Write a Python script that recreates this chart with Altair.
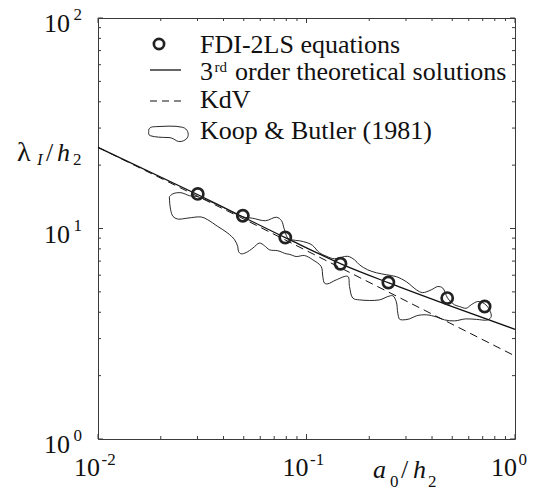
import altair as alt
import pandas as pd

# ---------------- data ----------------
fdi_a = [0.0301, 0.0495, 0.0791, 0.1455, 0.247, 0.473, 0.715]
fdi_lam = [14.6, 11.5, 9.06, 6.80, 5.54, 4.67, 4.26]

third_a = [0.01, 0.03, 0.08, 0.15, 0.25, 0.474, 1.0]
third_lam = [24.3, 14.5, 9.0, 6.72, 5.5, 4.34, 3.32]

kdv_a = [0.01, 0.05, 1.0]
kdv_lam = [24.3, 11.1, 2.48]

koop_a = [0.0220, 0.0229, 0.0250, 0.0275, 0.0300, 0.0383, 0.0493, 0.0551, 0.0636, 0.0718,
          0.0759, 0.0780, 0.0811, 0.0848, 0.0926, 0.1011, 0.1068, 0.1154, 0.1247, 0.1362,
          0.1573, 0.1699, 0.1796, 0.1962, 0.2166, 0.2419, 0.2702, 0.3017, 0.337, 0.360,
          0.3963, 0.4263, 0.4505, 0.4746, 0.5127, 0.5418, 0.5834, 0.6165, 0.6631, 0.714,
          0.7546, 0.769, 0.7405,
          0.6536, 0.5789, 0.5127, 0.4591, 0.4202, 0.3763, 0.337, 0.3119, 0.2887, 0.2793,
          0.2741, 0.2693, 0.2594, 0.2455, 0.2239, 0.1796, 0.1668, 0.1608, 0.1578, 0.1388,
          0.1265, 0.122, 0.1197, 0.1176, 0.1072, 0.0978, 0.0893, 0.0829, 0.0799, 0.0729,
          0.0665, 0.0629, 0.0595, 0.0553, 0.0514, 0.0486, 0.0472, 0.0468, 0.0452, 0.0419,
          0.0375, 0.0336, 0.0313, 0.0270, 0.0241, 0.0229, 0.0223, 0.0220]
koop_lam = [14.16, 14.63, 14.79, 14.31, 14.16, 12.83, 11.37, 11.19, 10.89, 11.31,
            10.89, 10.03, 9.04, 8.84, 8.74, 8.55, 8.32, 7.67, 7.38, 7.18,
            7.38, 7.10, 6.72, 6.37, 6.16, 6.03, 5.90, 5.58, 5.11, 4.96,
            5.11, 5.30, 5.21, 4.68, 4.34, 4.26, 4.18, 4.34, 4.50, 4.39,
            4.11, 3.82, 3.68,
            3.70, 3.72, 3.64, 3.68, 3.80, 3.89, 3.85, 3.72, 3.68, 3.71,
            3.96, 4.50, 4.79, 4.75, 4.58, 4.58, 4.67, 5.30, 5.92, 5.70,
            5.46, 5.50, 5.92, 6.60, 7.10, 7.44, 7.36, 7.54, 7.58, 7.84,
            7.92, 8.28, 8.53, 8.07, 7.69, 7.58, 7.78, 8.21, 8.84, 9.51,
            10.23, 11.00, 11.34, 11.21, 11.09, 11.41, 12.28, 13.96]

x_major = [0.01, 0.1, 1.0]
x_exp = ["-2", "-1", "0"]
x_minor = [0.02, 0.03, 0.04, 0.05, 0.06, 0.07, 0.08, 0.09,
           0.2, 0.3, 0.4, 0.5, 0.6, 0.7, 0.8, 0.9]
y_major = [1.0, 10.0, 100.0]
y_exp = ["0", "1", "2"]
y_minor = [2, 3, 4, 5, 6, 7, 8, 9, 20, 30, 40, 50, 60, 70, 80, 90]

legend_labels = ["FDI-2LS equations", "3", "rd", "order theoretical solutions",
                 "KdV", "Koop & Butler (1981)"]

# ---------------- styling ----------------
W, H = 417, 421
FONT = "Liberation Serif"
INK = "#111111"
FRAME = "#3a3a3a"
MAJ, MIN = 5, 3

xs = alt.Scale(type="log", domain=[0.01, 1.0], nice=False)
ys = alt.Scale(type="log", domain=[1.0, 100.0], nice=False)


def X(f):
    return alt.X(f"{f}:Q", scale=xs, axis=None)


def Y(f):
    return alt.Y(f"{f}:Q", scale=ys, axis=None)


def txt(s, x, y, size=26, align="left", style="normal"):
    return alt.Chart(pd.DataFrame({"t": [s]})).mark_text(
        font=FONT, fontSize=size, align=align, baseline="alphabetic",
        fontStyle=style, color=INK
    ).encode(x=alt.value(x), y=alt.value(y), text="t:N")


# ---------------- data layers ----------------
koop = pd.DataFrame({
    "a": koop_a + koop_a[:1],
    "lam": koop_lam + koop_lam[:1],
    "i": list(range(len(koop_a) + 1)),
})
koop_layer = alt.Chart(koop).mark_line(color=INK, strokeWidth=0.9, interpolate="catmull-rom").encode(
    x=X("a"), y=Y("lam"), order=alt.Order("i:Q"))

kdv_layer = alt.Chart(pd.DataFrame({"a": kdv_a, "lam": kdv_lam})).mark_line(
    color=INK, strokeWidth=1, strokeDash=[8, 5]).encode(x=X("a"), y=Y("lam"))

third_layer = alt.Chart(pd.DataFrame({"a": third_a, "lam": third_lam})).mark_line(
    color=INK, strokeWidth=1.3, interpolate="monotone").encode(x=X("a"), y=Y("lam"))

fdi_layer = alt.Chart(pd.DataFrame({"a": fdi_a, "lam": fdi_lam})).mark_point(
    shape="circle", filled=False, size=125, strokeWidth=2.7, color="#222222", opacity=1
).encode(x=X("a"), y=Y("lam"))

# ---------------- legend ----------------
leg_circle = alt.Chart(pd.DataFrame({"k": [legend_labels[0]]})).mark_point(
    shape="circle", filled=False, size=105, strokeWidth=2.7, color="#222222", opacity=1
).encode(x=alt.value(61), y=alt.value(26))
leg_solid = alt.Chart(pd.DataFrame({"k": [legend_labels[3]]})).mark_rule(
    color=INK, strokeWidth=1.3).encode(x=alt.value(52), x2=alt.value(83), y=alt.value(52))
leg_dash = alt.Chart(pd.DataFrame({"k": [legend_labels[4]]})).mark_rule(
    color=INK, strokeWidth=1, strokeDash=[7, 5]).encode(x=alt.value(52), x2=alt.value(84), y=alt.value(83))
blob = ("M -0.92 -0.12 C -0.95 -0.3 -0.8 -0.35 -0.6 -0.35 C -0.2 -0.36 0.3 -0.42 0.7 -0.32 "
        "C 0.95 -0.25 1 0 0.95 0.12 C 0.9 0.3 0.6 0.42 0.42 0.33 C 0.3 0.26 0.2 0.18 0.05 0.17 "
        "C -0.3 0.16 -0.6 0.16 -0.85 0.08 C -0.95 0.04 -0.93 -0.05 -0.92 -0.12 Z")
leg_blob = alt.Chart(pd.DataFrame({"k": [legend_labels[5]]})).mark_point(
    shape=blob, filled=False, size=1750, strokeWidth=0.9, color=INK, opacity=1
).encode(x=alt.value(70), y=alt.value(116))

leg_texts = [
    txt(legend_labels[0], 102, 35),
    txt(legend_labels[1], 102, 62),
    txt(legend_labels[2], 116.5, 54, size=15),
    txt(legend_labels[3], 137, 62),
    txt(legend_labels[4], 102, 90),
    txt(legend_labels[5], 102, 121),
]

# ---------------- ticks (inward, all four sides) ----------------
xmaj = pd.DataFrame({"v": x_major, "e": x_exp, "b": ["10"] * 3})
xmin_ = pd.DataFrame({"v": x_minor})
ymaj = pd.DataFrame({"v": y_major, "e": y_exp, "b": ["10"] * 3})
ymin_ = pd.DataFrame({"v": y_minor})

tick_layers = []
for df, ln in [(xmaj, MAJ), (xmin_, MIN)]:
    tick_layers.append(alt.Chart(df).mark_rule(color=FRAME, strokeWidth=1).encode(
        x=X("v"), y=alt.value(H), y2=alt.value(H - ln)))
    tick_layers.append(alt.Chart(df).mark_rule(color=FRAME, strokeWidth=1).encode(
        x=X("v"), y=alt.value(0), y2=alt.value(ln)))
for df, ln in [(ymaj, MAJ), (ymin_, MIN)]:
    tick_layers.append(alt.Chart(df).mark_rule(color=FRAME, strokeWidth=1).encode(
        y=Y("v"), x=alt.value(0), x2=alt.value(ln)))
    tick_layers.append(alt.Chart(df).mark_rule(color=FRAME, strokeWidth=1).encode(
        y=Y("v"), x=alt.value(W), x2=alt.value(W - ln)))

# ---------------- tick labels ----------------
xl_base = alt.Chart(xmaj).mark_text(font=FONT, fontSize=26, align="right", baseline="alphabetic",
                                    color=INK, dx=2, dy=36.5).encode(
    x=X("v"), y=alt.value(H), text="b:N")
xl_exp = alt.Chart(xmaj).mark_text(font=FONT, fontSize=17, align="left", baseline="alphabetic",
                                   color=INK, dx=3.5, dy=26).encode(
    x=X("v"), y=alt.value(H), text="e:N")
yl_base = alt.Chart(ymaj).mark_text(font=FONT, fontSize=26, align="right", baseline="alphabetic",
                                    color=INK, dy=14).encode(
    y=Y("v"), x=alt.value(-28), text="b:N")
yl_exp = alt.Chart(ymaj).mark_text(font=FONT, fontSize=17, align="left", baseline="alphabetic",
                                   color=INK, dy=2).encode(
    y=Y("v"), x=alt.value(-24.5), text="e:N")

# ---------------- axis titles ----------------
title_layers = [
    # y: lambda_I / h_2
    txt("λ", -81, 143, size=28),
    txt("I", -61, 147, size=17, style="italic"),
    txt("/", -52, 143, size=26),
    txt("h", -41, 143, size=26, style="italic"),
    txt("2", -25, 147, size=17),
    # x: a_0 / h_2
    txt("a", 275, 460, size=26, style="italic"),
    txt("0", 292, 469, size=17),
    txt("/", 303, 460, size=26),
    txt("h", 315, 460, size=26, style="italic"),
    txt("2", 330, 469, size=17),
]

chart = alt.layer(
    koop_layer, kdv_layer, third_layer, fdi_layer,
    leg_circle, leg_solid, leg_dash, leg_blob, *leg_texts,
    *tick_layers, xl_base, xl_exp, yl_base, yl_exp, *title_layers
).properties(
    width=W, height=H,
    padding={"left": 98, "top": 18, "right": 21, "bottom": 56},
    autosize=alt.AutoSizeParams(type="none"),
    background="white",
).configure_view(stroke=FRAME, strokeWidth=1)

chart.save("out.html", embed_options={"renderer": "svg", "actions": False})
